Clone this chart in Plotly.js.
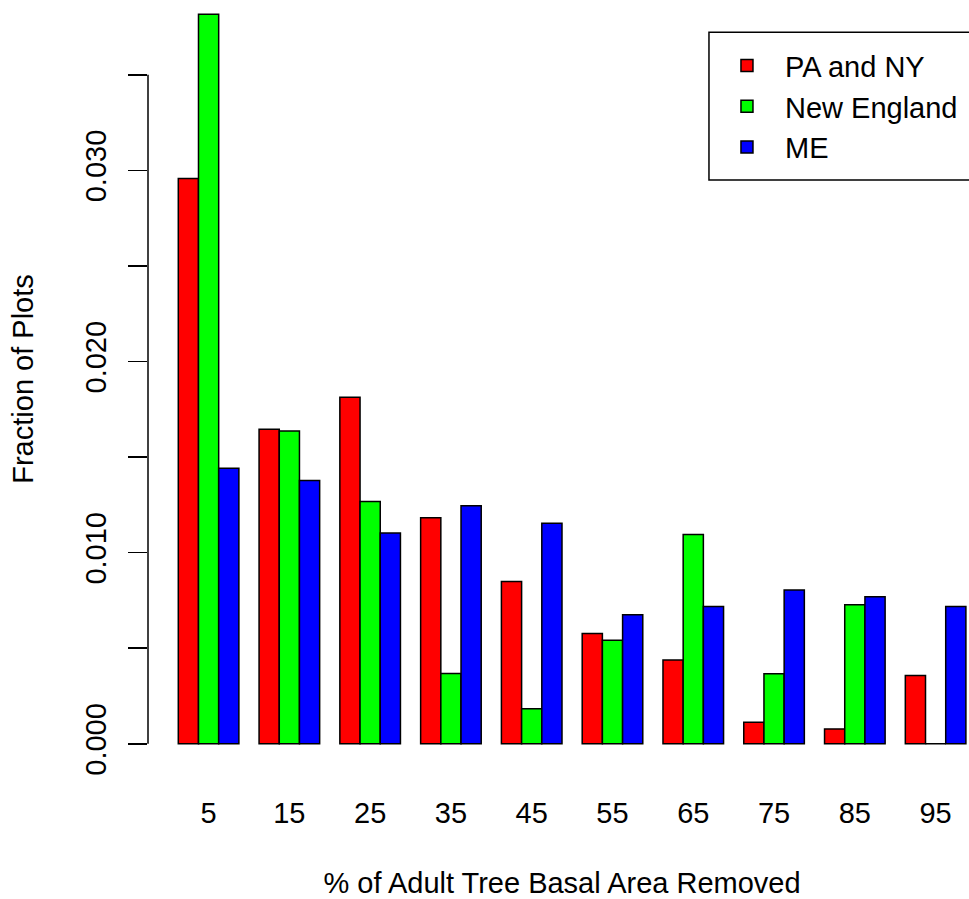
<!DOCTYPE html>
<html>
<head>
<meta charset="utf-8">
<script src="https://cdn.plot.ly/plotly-3.0.1.min.js"></script>
<style>
  html, body { margin: 0; padding: 0; overflow: hidden; background: #fff; width: 969px; height: 899px; }
  #chart { position: absolute; left: 0; top: -15px; }
</style>
</head>
<body>
<div id="chart"></div>
<script>
// Data
const categories = ["5", "15", "25", "35", "45", "55", "65", "75", "85", "95"];
const paNY       = [0.02958, 0.01646, 0.01813, 0.01182, 0.00849, 0.00577, 0.00438, 0.00113, 0.00078, 0.00357];
const newEngland = [0.03817, 0.01637, 0.01267, 0.00368, 0.00183, 0.00542, 0.01095, 0.00366, 0.00727, 0.00000];
const maine      = [0.01442, 0.01377, 0.01103, 0.01245, 0.01154, 0.00675, 0.00718, 0.00805, 0.00770, 0.00718];
const seriesNames = ["PA and NY", "New England", "ME"];
const yTicks = [0, 0.005, 0.010, 0.015, 0.020, 0.025, 0.030, 0.035];
const yTickText = ["0.000", "", "0.010", "", "0.020", "", "0.030", ""];

const FONT = "Liberation Sans, Arial, Helvetica, sans-serif";
const FS = 29;
const outline = { color: "#000000", width: 1.5 };

const traces = [
  { type: "bar", name: seriesNames[0], x: categories, y: paNY,       marker: { color: "#FF0000", line: outline } },
  { type: "bar", name: seriesNames[1], x: categories, y: newEngland, marker: { color: "#00FF00", line: outline } },
  { type: "bar", name: seriesNames[2], x: categories, y: maine,      marker: { color: "#0000FF", line: outline } }
];

const maxVal = Math.max(...paNY, ...newEngland, ...maine);

const layout = {
  width: 1000,
  height: 914,
  margin: { l: 148, r: 24, t: 0, b: 125.8 },
  paper_bgcolor: "#ffffff",
  plot_bgcolor: "#ffffff",
  font: { family: FONT, size: FS, color: "#000000" },
  barmode: "group",
  bargap: 0.25,
  bargroupgap: 0,
  showlegend: true,
  legend: {
    x: 0.6775, y: 0.9300, xanchor: "left", yanchor: "top",
    borderwidth: 0, bgcolor: "rgba(0,0,0,0)",
    itemwidth: 66,
    font: { family: FONT, size: FS, color: "#000000" },
    traceorder: "normal"
  },
  xaxis: {
    type: "category",
    range: [-0.75, 9.5],
    showline: false, showgrid: false, zeroline: false,
    ticks: "",
    tickfont: { family: FONT, size: FS, color: "#000000" },
    ticklabelstandoff: 20,
    title: { text: "% of Adult Tree Basal Area Removed", font: { family: FONT, size: FS, color: "#000000" }, standoff: 52 }
  },
  yaxis: {
    range: [-0.04 * maxVal, 1.04 * maxVal],
    showline: false, showgrid: false, zeroline: false,
    tickvals: yTicks, ticktext: yTickText,
    ticks: "outside", ticklen: 19, tickwidth: 1.5, tickcolor: "#000000",
    tickangle: -90,
    ticklabelstandoff: 10,
    tickfont: { family: FONT, size: FS, color: "#000000" },
    title: { text: "Fraction of Plots", font: { family: FONT, size: FS, color: "#000000" }, standoff: 38 }
  },
  shapes: [
    { type: "line", xref: "paper", yref: "y", x0: 0, x1: 0,
      y0: yTicks[0], y1: yTicks[yTicks.length - 1],
      line: { color: "#000000", width: 1.5 } },
    { type: "rect", xref: "paper", yref: "paper", layer: "below",
      x0: 0.6775, x1: 1.03, y0: 0.7526, y1: 0.940,
      fillcolor: "#ffffff", line: { color: "#000000", width: 1.5 } }
  ]
};

Plotly.newPlot("chart", traces, layout, { displayModeBar: false, staticPlot: true });
</script>
</body>
</html>
